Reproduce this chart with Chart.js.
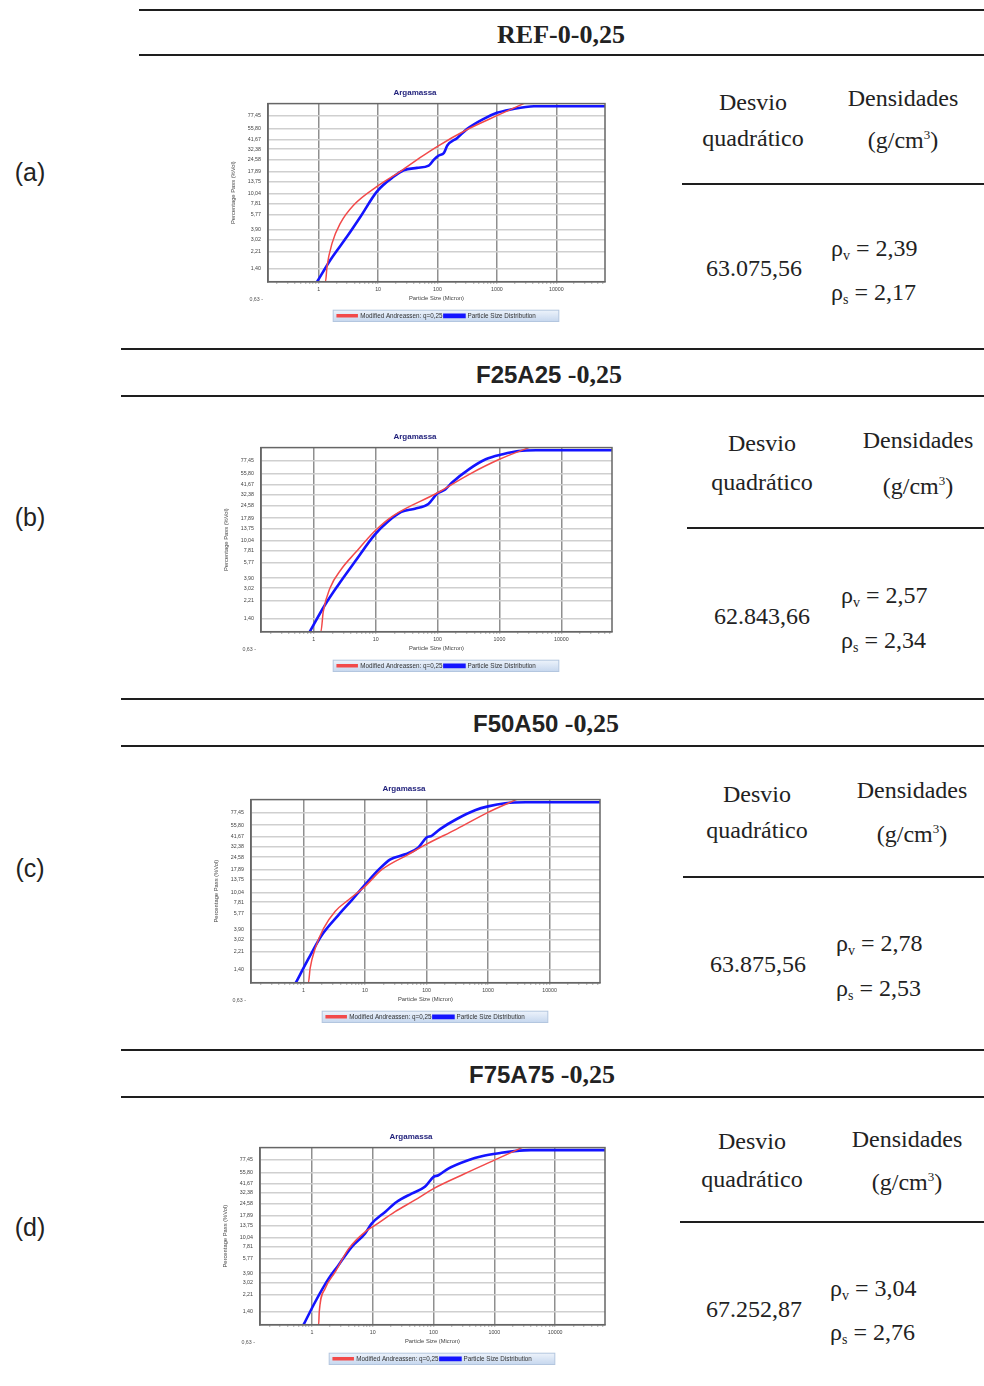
<!DOCTYPE html>
<html>
<head>
<meta charset="utf-8">
<title>Argamassa</title>
<script src="https://cdn.jsdelivr.net/npm/chart.js@4.4.0/dist/chart.umd.min.js"></script>
<style>
    body { margin: 0; background: #fff; }
    #page { position: relative; width: 984px; height: 1386px; overflow: hidden; color: #222; }
    .rule { position: absolute; height: 2px; background: #1e1e1e; right: 0; }
    .t { position: absolute; transform: translate(-50%, -50%); white-space: nowrap; line-height: 1; }
    .l { position: absolute; transform: translate(0, -50%); white-space: nowrap; line-height: 1; }
    .serif { font-family: "Liberation Serif", "Times New Roman", serif; font-size: 24px; }
    .head { font-family: "Liberation Serif", serif; font-weight: bold; font-size: 26px; }
    .head .s { font-family: "Liberation Sans", Arial, sans-serif; font-size: 24px; }
    .tag { font-family: "Liberation Sans", Arial, sans-serif; font-size: 25px; }
    sub { font-size: 14px; vertical-align: -4px; }
    sup { font-size: 13px; vertical-align: 9px; }
    canvas { position: absolute; }
</style>
</head>
<body>
<div id="page">
    <!-- (a) -->
    <div class="rule" style="left:139px;top:9px"></div>
    <div class="t head" style="left:561px;top:35px">REF-0-0,25</div>
    <div class="rule" style="left:139px;top:54px"></div>
    <div class="t tag" style="left:30px;top:172px">(a)</div>
    <div class="t serif" style="left:753px;top:102px">Desvio</div>
    <div class="t serif" style="left:753px;top:138px">quadrático</div>
    <div class="t serif" style="left:903px;top:98px">Densidades</div>
    <div class="t serif" style="left:903px;top:140px">(g/cm<sup>3</sup>)</div>
    <div class="rule" style="left:682px;top:183px"></div>
    <div class="t serif" style="left:754px;top:268px">63.075,56</div>
    <div class="l serif" style="left:831px;top:249px">ρ<sub>v</sub> = 2,39</div>
    <div class="l serif" style="left:831px;top:293px">ρ<sub>s</sub> = 2,17</div>

    <!-- (b) -->
    <div class="rule" style="left:121px;top:348px"></div>
    <div class="t head" style="left:549px;top:375px"><span class="s">F25A25</span> -0,25</div>
    <div class="rule" style="left:121px;top:395px"></div>
    <div class="t tag" style="left:30px;top:517px">(b)</div>
    <div class="t serif" style="left:762px;top:443px">Desvio</div>
    <div class="t serif" style="left:762px;top:482px">quadrático</div>
    <div class="t serif" style="left:918px;top:440px">Densidades</div>
    <div class="t serif" style="left:918px;top:486px">(g/cm<sup>3</sup>)</div>
    <div class="rule" style="left:687px;top:527px"></div>
    <div class="t serif" style="left:762px;top:616px">62.843,66</div>
    <div class="l serif" style="left:841px;top:596px">ρ<sub>v</sub> = 2,57</div>
    <div class="l serif" style="left:841px;top:641px">ρ<sub>s</sub> = 2,34</div>

    <!-- (c) -->
    <div class="rule" style="left:121px;top:698px"></div>
    <div class="t head" style="left:546px;top:724px"><span class="s">F50A50</span> -0,25</div>
    <div class="rule" style="left:121px;top:745px"></div>
    <div class="t tag" style="left:30px;top:868px">(c)</div>
    <div class="t serif" style="left:757px;top:794px">Desvio</div>
    <div class="t serif" style="left:757px;top:830px">quadrático</div>
    <div class="t serif" style="left:912px;top:790px">Densidades</div>
    <div class="t serif" style="left:912px;top:834px">(g/cm<sup>3</sup>)</div>
    <div class="rule" style="left:683px;top:876px"></div>
    <div class="t serif" style="left:758px;top:964px">63.875,56</div>
    <div class="l serif" style="left:836px;top:944px">ρ<sub>v</sub> = 2,78</div>
    <div class="l serif" style="left:836px;top:989px">ρ<sub>s</sub> = 2,53</div>

    <!-- (d) -->
    <div class="rule" style="left:121px;top:1049px"></div>
    <div class="t head" style="left:542px;top:1075px"><span class="s">F75A75</span> -0,25</div>
    <div class="rule" style="left:121px;top:1096px"></div>
    <div class="t tag" style="left:30px;top:1227px">(d)</div>
    <div class="t serif" style="left:752px;top:1141px">Desvio</div>
    <div class="t serif" style="left:752px;top:1179px">quadrático</div>
    <div class="t serif" style="left:907px;top:1139px">Densidades</div>
    <div class="t serif" style="left:907px;top:1182px">(g/cm<sup>3</sup>)</div>
    <div class="rule" style="left:680px;top:1221px"></div>
    <div class="t serif" style="left:754px;top:1309px">67.252,87</div>
    <div class="l serif" style="left:830px;top:1289px">ρ<sub>v</sub> = 3,04</div>
    <div class="l serif" style="left:830px;top:1333px">ρ<sub>s</sub> = 2,76</div>

    <canvas id="chartA"></canvas>
    <canvas id="chartB"></canvas>
    <canvas id="chartC"></canvas>
    <canvas id="chartD"></canvas>
</div>
<script>
// axis ticks (particle size in micron, percentage pass)
var xTicks = [1, 10, 100, 1000, 10000];
var yTicks = [1.40, 2.21, 3.02, 3.90, 5.77, 7.81, 10.04, 13.75, 17.89, 24.58, 32.38, 41.67, 55.80, 77.45];
var yLowTick = 0.63;
var seriesNames = ['Modified Andreassen: q=0,25', 'Particle Size Distribution'];

// [size, % pass]
var andreassenA = [[0.15, 1], [1.3, 1], [1.38, 1.49], [1.68, 2.75], [2.32, 4.66], [3.89, 7.5], [9.6, 12.2], [23.8, 18.1], [50, 25.7], [100, 34.9], [316, 54.2], [1000, 78], [3000, 109]];
var psdA = [[0.94, 1], [1.57, 1.77], [3.0, 3.27], [5.04, 5.5], [9.6, 10.7], [18.4, 15.8], [27, 18.6], [45, 19.8], [71, 21], [87, 24.6], [105, 27.4], [128, 29.3], [146, 35.6], [215, 43.5], [316, 55.1], [600, 71.7], [1000, 84], [1700, 91.6], [4200, 100], [68000, 100]];

var andreassenB = [[0.15, 1], [1.3, 1], [1.42, 1.66], [1.82, 3.01], [2.85, 5.0], [4.63, 7.35], [9.6, 12.8], [18.8, 18.8], [100, 34], [320, 54], [1000, 79.5], [3200, 109]];
var psdB = [[0.86, 1], [1.51, 1.97], [2.48, 3.28], [4.63, 5.94], [9.6, 11.7], [16, 16.5], [26, 20.9], [43, 22.7], [71, 25.6], [98, 33.1], [133, 37], [170, 43.9], [320, 61.6], [600, 79.5], [1130, 90.3], [2040, 98], [3900, 100], [68000, 100]];

var andreassenC = [[0.15, 1], [1.2, 1], [1.28, 1.44], [1.55, 2.4], [2.12, 4.0], [3.28, 6.2], [5.4, 8.3], [10, 11.7], [18.9, 18], [51, 26.5], [100, 34.3], [308, 50.4], [1000, 77.3], [3070, 109]];
var psdC = [[0.75, 1], [1.21, 1.86], [1.99, 3.38], [3.72, 5.66], [6.15, 8.3], [10, 12.2], [16.8, 18], [25.8, 23.3], [45, 26.5], [73, 31.4], [100, 40.7], [121, 42.5], [166, 50.4], [310, 65.2], [628, 82], [1000, 90], [1900, 97.5], [4100, 100], [68000, 100]];

var andreassenD = [[0.15, 1], [1.29, 1], [1.32, 1.4], [1.65, 2.6], [2.4, 4.0], [4.0, 7.4], [7.5, 11.6], [11, 13.8], [23, 19.6], [49, 26.7], [100, 36.3], [330, 54], [1000, 76.8], [3000, 109]];
var psdD = [[0.73, 1], [1.13, 1.82], [1.88, 3.37], [2.73, 4.8], [4.52, 7.8], [7.5, 11.1], [9.6, 14.4], [16, 19.6], [24.6, 25.5], [43.6, 31.8], [72, 38], [100, 49.4], [120, 51.6], [175, 61.6], [370, 76.8], [620, 85.3], [1300, 93.2], [2150, 97.4], [4000, 100], [68000, 100]];

// where each plot area sits on the page: left, top, right, bottom
var panels = [
    {id: 'chartA', plot: [268, 104, 605, 282], red: andreassenA, blue: psdA},
    {id: 'chartB', plot: [261, 448, 612, 632], red: andreassenB, blue: psdB},
    {id: 'chartC', plot: [251, 800, 600, 983], red: andreassenC, blue: psdC},
    {id: 'chartD', plot: [260, 1148, 605, 1325], red: andreassenD, blue: psdD}
];

var TITLE_H = 19.6, XAXIS_H = 29, LEGEND_H = 18.3, YAXIS_W = 43, PAD_R = 2;

Chart.defaults.font.family = '"Liberation Sans", Arial, sans-serif';
Chart.defaults.animation = false;

var minorXTicks = [];
[0.1].concat(xTicks).forEach(function (d) {
    for (var m = 1; m < 10; m++) minorXTicks.push(+(m * d).toPrecision(3));
});

var framePlugin = {
    id: 'frame',
    beforeDraw: function (chart) {
        var ctx = chart.ctx;
        var boxes = chart.legend.legendHitBoxes;
        if (boxes && boxes.length) {
            var first = boxes[0], last = boxes[boxes.length - 1];
            var left = first.left - 4, right = last.left + last.width + 23;
            var top = first.top - 2.5, h = first.height + 5;
            var g = ctx.createLinearGradient(0, top, 0, top + h);
            g.addColorStop(0, '#edf3fb');
            g.addColorStop(1, '#c6d7ee');
            ctx.save();
            ctx.fillStyle = g;
            ctx.fillRect(left, top, right - left, h);
            ctx.strokeStyle = '#b3c6df';
            ctx.lineWidth = 1;
            ctx.strokeRect(left, top, right - left, h);
            ctx.restore();
        }
    },
    afterDatasetsDraw: function (chart) {
        var a = chart.chartArea, ctx = chart.ctx;
        ctx.save();
        ctx.strokeStyle = '#666';
        ctx.lineWidth = 1.5;
        ctx.strokeRect(a.left, a.top, a.right - a.left, a.bottom - a.top);
        ctx.restore();
    },
    afterDraw: function (chart) {
        var y = chart.scales.y, ctx = chart.ctx;
        ctx.save();
        ctx.font = '5.3px "Liberation Sans", Arial, sans-serif';
        ctx.fillStyle = '#555';
        ctx.textAlign = 'right';
        ctx.textBaseline = 'middle';
        ctx.fillText(String(yLowTick.toFixed(2)).replace('.', ',') + ' -', y.right - 5, y.getPixelForValue(yLowTick));
        ctx.restore();
    }
};

function toPoints(list) {
    return list.map(function (p) { return {x: p[0], y: p[1]}; });
}

panels.forEach(function (panel) {
    var L = panel.plot[0], T = panel.plot[1], R = panel.plot[2], B = panel.plot[3];
    var canvas = document.getElementById(panel.id);
    var left = Math.round(L - YAXIS_W), top = Math.round(T - TITLE_H);
    canvas.width = Math.round(R + PAD_R - left);
    canvas.height = Math.round(B + XAXIS_H + LEGEND_H - top);
    canvas.style.left = left + 'px';
    canvas.style.top = top + 'px';

    new Chart(canvas.getContext('2d'), {
        type: 'line',
        data: {
            datasets: [
                {
                    label: seriesNames[0],
                    data: toPoints(panel.red),
                    borderColor: '#f24a4a',
                    backgroundColor: '#f24a4a',
                    borderWidth: 1.5,
                    pointRadius: 0,
                    cubicInterpolationMode: 'monotone'
                },
                {
                    label: seriesNames[1],
                    data: toPoints(panel.blue),
                    borderColor: '#1414ff',
                    backgroundColor: '#1414ff',
                    borderWidth: 2.6,
                    pointRadius: 0,
                    cubicInterpolationMode: 'monotone'
                }
            ]
        },
        options: {
            responsive: false,
            parsing: false,
            layout: {padding: {left: 0, right: PAD_R, top: 0, bottom: 0}},
            plugins: {
                title: {
                    display: true,
                    text: 'Argamassa',
                    color: '#1f1f7a',
                    font: {size: 8, weight: 'bold'},
                    padding: {top: 4, bottom: 6}
                },
                legend: {
                    position: 'bottom',
                    fullSize: false,
                    labels: {
                        boxWidth: 20,
                        boxHeight: 2,
                        padding: 2,
                        color: '#333',
                        font: {size: 6.3}
                    }
                },
                tooltip: {enabled: false}
            },
            scales: {
                x: {
                    type: 'logarithmic',
                    min: 0.14,
                    max: 66000,
                    afterBuildTicks: function (scale) {
                        scale.ticks = minorXTicks.filter(function (v) {
                            return v >= 0.14 && v <= 66000;
                        }).map(function (v) {
                            return {value: v, major: xTicks.indexOf(v) >= 0};
                        });
                    },
                    afterFit: function (scale) { scale.height = XAXIS_H; },
                    ticks: {
                        autoSkip: false,
                        maxRotation: 0,
                        padding: 3,
                        color: '#444',
                        font: {size: 5.3},
                        callback: function (value) {
                            return xTicks.indexOf(value) >= 0 ? String(value) : '';
                        }
                    },
                    grid: {
                        lineWidth: 1.5,
                        tickLength: 2,
                        tickColor: '#888',
                        tickWidth: 1,
                        color: function (c) {
                            return c.tick && xTicks.indexOf(c.tick.value) >= 0 ? '#8f8f8f' : 'rgba(0,0,0,0)';
                        }
                    },
                    border: {color: '#666', width: 1.5},
                    title: {
                        display: true,
                        text: 'Particle Size (Micron)',
                        color: '#444',
                        font: {size: 5.8},
                        padding: {top: 0, bottom: 9}
                    }
                },
                y: {
                    type: 'logarithmic',
                    min: 1,
                    max: 107,
                    afterBuildTicks: function (scale) {
                        scale.ticks = yTicks.map(function (v) { return {value: v}; });
                    },
                    afterFit: function (scale) { scale.width = YAXIS_W; },
                    ticks: {
                        autoSkip: false,
                        padding: 7,
                        color: '#444',
                        font: {size: 5.3},
                        callback: function (value) {
                            return Number(value).toFixed(2).replace('.', ',');
                        }
                    },
                    grid: {color: '#cfcfcf', lineWidth: 1.5, drawTicks: false},
                    border: {color: '#666', width: 1.5},
                    title: {
                        display: true,
                        text: 'Percentage Pass (%Vol)',
                        color: '#444',
                        font: {size: 5.8},
                        padding: {top: 5, bottom: 0}
                    }
                }
            }
        },
        plugins: [framePlugin]
    });
});
</script>
</body>
</html>
